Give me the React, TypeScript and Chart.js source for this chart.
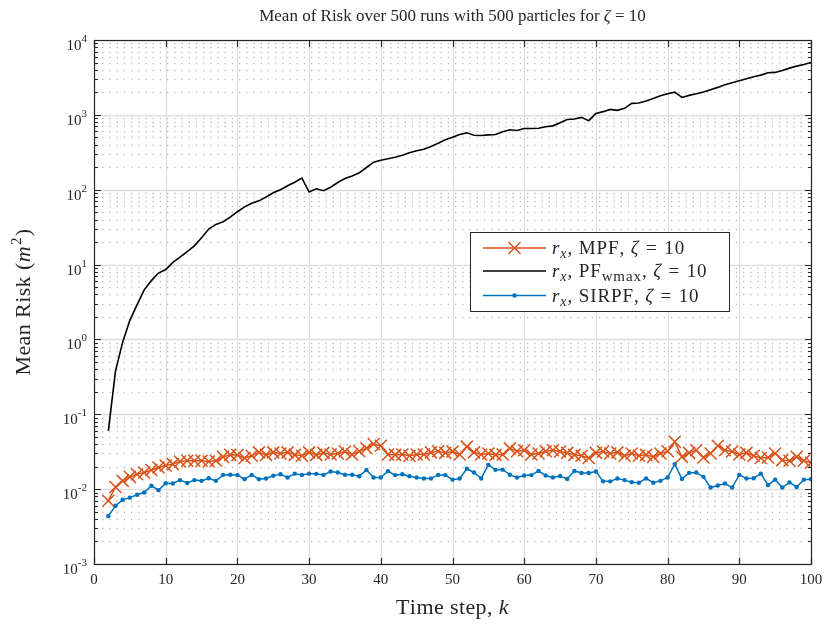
import React, { useEffect, useRef } from 'react';
import { Chart, registerables } from 'chart.js';

Chart.register(...registerables);

// ---------- data ----------
const steps: number[] = Array.from({ length: 99 }, (_, i) => i + 2); // k = 2..100

const mpfRisk: number[] = [
  0.0070, 0.0107, 0.0129, 0.0146, 0.0158, 0.0167, 0.018, 0.0195, 0.0207,
  0.0216, 0.0234, 0.0239, 0.024, 0.024, 0.0234, 0.024, 0.027, 0.0287, 0.0285,
  0.026, 0.028, 0.031, 0.0287, 0.031, 0.030, 0.031, 0.0287, 0.028, 0.031,
  0.0287, 0.0305, 0.029, 0.030, 0.0318, 0.029, 0.032, 0.0352, 0.040, 0.038,
  0.029, 0.0287, 0.029, 0.028, 0.029, 0.029, 0.031, 0.032, 0.0305, 0.0318,
  0.029, 0.037, 0.031, 0.029, 0.030, 0.0287, 0.029, 0.035, 0.032, 0.033,
  0.029, 0.030, 0.032, 0.033, 0.0318, 0.0305, 0.0287, 0.028, 0.026, 0.0305,
  0.0318, 0.030, 0.031, 0.028, 0.030, 0.028, 0.0287, 0.027, 0.030, 0.032,
  0.043, 0.027, 0.0305, 0.033, 0.0265, 0.030, 0.038, 0.033, 0.0318, 0.029,
  0.0305, 0.028, 0.026, 0.0265, 0.030, 0.0244, 0.024, 0.027, 0.024, 0.0225,
];

const pfwmaxRisk: number[] = [
  0.06, 0.38, 0.92, 1.8, 2.9, 4.6, 6.1, 7.7, 8.6,
  10.7, 12.6, 14.9, 17.8, 22.8, 29.8, 34.4, 37.4, 43, 50.8,
  59, 66, 71, 80, 91, 100, 113, 126, 143, 93,
  103, 97, 108, 125, 141, 153, 168, 198, 233, 248,
  259, 272, 289, 311, 331, 348, 378, 418, 464, 503,
  546, 575, 535, 530, 541, 546, 593, 631, 618, 657,
  657, 663, 693, 713, 782, 865, 880, 926, 836, 1047,
  1104, 1184, 1148, 1221, 1423, 1437, 1527, 1660, 1803, 1918,
  2014, 1711, 1820, 1918, 2014, 2168, 2328, 2529, 2687, 2858,
  3040, 3230, 3395, 3656, 3690, 3920, 4210, 4475, 4710, 5010,
];

const sirpfRisk: number[] = [
  0.00436, 0.006, 0.0072, 0.0077, 0.0084, 0.009, 0.0111, 0.0097, 0.012,
  0.0119, 0.0132, 0.0121, 0.0132, 0.0129, 0.014, 0.0129, 0.0155, 0.0156, 0.0154,
  0.0136, 0.0155, 0.0136, 0.0139, 0.0151, 0.0158, 0.0143, 0.0161, 0.0155, 0.0161,
  0.016, 0.0155, 0.0172, 0.0167, 0.0156, 0.0156, 0.0149, 0.018, 0.0143, 0.0143,
  0.0174, 0.0154, 0.0158, 0.0149, 0.0143, 0.0139, 0.0139, 0.0155, 0.0154, 0.0134,
  0.0139, 0.0187, 0.0167, 0.0139, 0.0211, 0.0181, 0.0182, 0.0156, 0.0143, 0.0152,
  0.0154, 0.0175, 0.0152, 0.0143, 0.015, 0.0137, 0.0175, 0.0164, 0.0164, 0.0172,
  0.0127, 0.0127, 0.0139, 0.0132, 0.0124, 0.0122, 0.0139, 0.0122, 0.0129, 0.0143,
  0.0216, 0.0137, 0.0165, 0.0167, 0.0146, 0.0105, 0.0112, 0.0119, 0.0105, 0.0155,
  0.0139, 0.014, 0.0161, 0.0113, 0.0134, 0.0105, 0.0123, 0.0107, 0.0134, 0.0136,
];

const xTicks: number[] = [0, 10, 20, 30, 40, 50, 60, 70, 80, 90, 100];
const yExponents: number[] = [-3, -2, -1, 0, 1, 2, 3, 4];
const minorMultipliers: number[] = [2, 3, 4, 5, 6, 7, 8, 9];

// ---------- styling ----------
const FONT = '"Liberation Serif", "DejaVu Serif", "Times New Roman", serif';
const TEXT = '#262626';
const ORANGE = '#D95319';
const BLUE = '#0072BD';

type Seg = { t: string; it?: boolean; sz?: number; dy?: number; gap?: number };

function drawRich(
  ctx: CanvasRenderingContext2D,
  segs: Seg[],
  x: number,
  y: number,
  size: number,
  align: 'left' | 'center' | 'right',
  ls = 0
) {
  ctx.save();
  ctx.textBaseline = 'alphabetic';
  ctx.textAlign = 'left';
  ctx.fillStyle = TEXT;
  const fontOf = (s: Seg) => `${s.it ? 'italic ' : ''}${s.sz ?? size}px ${FONT}`;
  let total = 0;
  const widths = segs.map((s) => {
    ctx.font = fontOf(s);
    let w = 0;
    for (const ch of s.t) w += ctx.measureText(ch).width + ls;
    w += s.gap ?? 0;
    total += w;
    return w;
  });
  let cx = align === 'left' ? x : align === 'center' ? x - total / 2 : x - total;
  segs.forEach((s, i) => {
    ctx.font = fontOf(s);
    if (ls === 0) {
      ctx.fillText(s.t, cx, y + (s.dy ?? 0));
    } else {
      let px = cx;
      for (const ch of s.t) {
        ctx.fillText(ch, px, y + (s.dy ?? 0));
        px += ctx.measureText(ch).width + ls;
      }
    }
    cx += widths[i];
  });
  ctx.restore();
}

const matlabAxes = {
  id: 'matlabAxes',
  beforeDatasetsDraw(chart: any) {
    const { ctx, chartArea: a, scales } = chart;
    const xs = scales.x;
    const ys = scales.y;
    ctx.save();
    ctx.beginPath();
    ctx.rect(a.left, a.top, a.right - a.left, a.bottom - a.top);
    ctx.clip();
    // minor dotted grid (horizontal)
    ctx.strokeStyle = '#bdbdbd';
    ctx.lineWidth = 1.3;
    ctx.setLineDash([1.3, 5.9]);
    yExponents.slice(0, -1).forEach((e) => {
      minorMultipliers.forEach((m) => {
        const py = Math.round(ys.getPixelForValue(m * Math.pow(10, e))) + 0.5;
        ctx.beginPath();
        ctx.moveTo(a.left + 1, py);
        ctx.lineTo(a.right, py);
        ctx.stroke();
      });
    });
    ctx.setLineDash([]);
    // major grid
    ctx.strokeStyle = '#dedede';
    ctx.lineWidth = 1.3;
    yExponents.forEach((e) => {
      const py = Math.round(ys.getPixelForValue(Math.pow(10, e))) + 0.5;
      ctx.beginPath();
      ctx.moveTo(a.left, py);
      ctx.lineTo(a.right, py);
      ctx.stroke();
    });
    xTicks.forEach((v) => {
      const px = Math.round(xs.getPixelForValue(v)) + 0.5;
      ctx.beginPath();
      ctx.moveTo(px, a.top);
      ctx.lineTo(px, a.bottom);
      ctx.stroke();
    });
    ctx.restore();
  },
  afterDatasetsDraw(chart: any) {
    const { ctx, chartArea: a, scales } = chart;
    const xs = scales.x;
    const ys = scales.y;
    const L = a.left + 0.5;
    const R = a.right + 0.5;
    const T = a.top + 0.5;
    const B = a.bottom + 0.5;
    ctx.save();
    ctx.strokeStyle = TEXT;
    ctx.lineWidth = 1.2;
    // ticks
    xTicks.forEach((v) => {
      const px = Math.round(xs.getPixelForValue(v)) + 0.5;
      ctx.beginPath();
      ctx.moveTo(px, B);
      ctx.lineTo(px, B - 6.5);
      ctx.moveTo(px, T);
      ctx.lineTo(px, T + 6.5);
      ctx.stroke();
    });
    yExponents.forEach((e, idx) => {
      const py = Math.round(ys.getPixelForValue(Math.pow(10, e))) + 0.5;
      ctx.beginPath();
      ctx.moveTo(L, py);
      ctx.lineTo(L + 6.5, py);
      ctx.moveTo(R, py);
      ctx.lineTo(R - 6.5, py);
      ctx.stroke();
      if (idx < yExponents.length - 1) {
        minorMultipliers.forEach((m) => {
          const my = Math.round(ys.getPixelForValue(m * Math.pow(10, e))) + 0.5;
          ctx.beginPath();
          ctx.moveTo(L, my);
          ctx.lineTo(L + 3.5, my);
          ctx.moveTo(R, my);
          ctx.lineTo(R - 3.5, my);
          ctx.stroke();
        });
      }
    });
    // box
    ctx.strokeRect(L, T, R - L, B - T);
    ctx.restore();

    // tick labels
    ctx.save();
    ctx.fillStyle = TEXT;
    ctx.font = `15px ${FONT}`;
    ctx.textAlign = 'center';
    ctx.textBaseline = 'alphabetic';
    xTicks.forEach((v) => {
      ctx.fillText(String(v), xs.getPixelForValue(v), a.bottom + 20);
    });
    ctx.restore();
    yExponents.forEach((e) => {
      const py = ys.getPixelForValue(Math.pow(10, e));
      const exp = e < 0 ? '-' + Math.abs(e) : String(e);
      drawRich(ctx, [{ t: '10' }, { t: exp, sz: 11, dy: -8 }], a.left - 7, py + 10, 15, 'right');
    });

    // title and axis labels
    drawRich(
      ctx,
      [{ t: 'Mean of Risk over 500 runs with 500 particles for ' }, { t: 'ζ', it: true }, { t: ' = 10' }],
      (a.left + a.right) / 2,
      21,
      17,
      'center'
    );
    drawRich(ctx, [{ t: 'Time step, ' }, { t: 'k', it: true }], (a.left + a.right) / 2, a.bottom + 50, 22, 'center', 0.4);
    ctx.save();
    ctx.translate(30, (a.top + a.bottom) / 2);
    ctx.rotate(-Math.PI / 2);
    drawRich(
      ctx,
      [{ t: 'Mean Risk (' }, { t: 'm', it: true, gap: 1 }, { t: '2', sz: 15, dy: -9, gap: 1 }, { t: ')' }],
      0,
      0,
      22,
      'center',
      0.4
    );
    ctx.restore();

    // legend
    const lx = 470.5, ly = 232.5, lw = 259, lh = 79;
    ctx.save();
    ctx.fillStyle = '#ffffff';
    ctx.fillRect(lx, ly, lw, lh);
    ctx.strokeStyle = TEXT;
    ctx.lineWidth = 1;
    ctx.strokeRect(lx, ly, lw, lh);
    const tail: Seg[] = [{ t: 'ζ', it: true, gap: 1 }, { t: ' = ', gap: 1 }, { t: '10' }];
    const rows = [
      { y: 248, color: ORANGE, marker: 'x', segs: [{ t: 'r', it: true }, { t: 'x', it: true, sz: 14, dy: 4 }, { t: ', MPF, ' }, ...tail] },
      { y: 271, color: '#000000', marker: '', segs: [{ t: 'r', it: true }, { t: 'x', it: true, sz: 14, dy: 4 }, { t: ', PF' }, { t: 'wmax', sz: 15, dy: 4 }, { t: ', ' }, ...tail] },
      { y: 295.5, color: BLUE, marker: 'o', segs: [{ t: 'r', it: true }, { t: 'x', it: true, sz: 14, dy: 4 }, { t: ', SIRPF, ' }, ...tail] },
    ];
    rows.forEach((r) => {
      ctx.strokeStyle = r.color;
      ctx.lineWidth = 1.5;
      ctx.beginPath();
      ctx.moveTo(483, r.y);
      ctx.lineTo(546, r.y);
      ctx.stroke();
      if (r.marker === 'x') {
        const d = 6;
        ctx.beginPath();
        ctx.moveTo(514.5 - d, r.y - d);
        ctx.lineTo(514.5 + d, r.y + d);
        ctx.moveTo(514.5 - d, r.y + d);
        ctx.lineTo(514.5 + d, r.y - d);
        ctx.stroke();
      } else if (r.marker === 'o') {
        ctx.fillStyle = r.color;
        ctx.beginPath();
        ctx.arc(514.5, r.y, 2.2, 0, Math.PI * 2);
        ctx.fill();
      }
      drawRich(ctx, r.segs as Seg[], 552, r.y + 6, 19, 'left', 0.9);
    });
    ctx.restore();
  },
};

export default function App() {
  const canvasRef = useRef<HTMLCanvasElement | null>(null);

  useEffect(() => {
    const canvas = canvasRef.current;
    if (!canvas) return;
    const toPts = (arr: number[]) => steps.map((k, i) => ({ x: k, y: arr[i] }));
    const chart = new Chart(canvas, {
      type: 'line',
      data: {
        datasets: [
          {
            label: 'MPF',
            data: toPts(mpfRisk),
            borderColor: ORANGE,
            backgroundColor: ORANGE,
            borderWidth: 1.5,
            pointStyle: 'crossRot',
            pointRadius: 8.5,
            pointBorderWidth: 1.5,
            pointBorderColor: ORANGE,
            tension: 0,
            order: 3,
          },
          {
            label: 'PFwmax',
            data: toPts(pfwmaxRisk),
            borderColor: '#000000',
            backgroundColor: '#000000',
            borderWidth: 1.6,
            pointRadius: 0,
            tension: 0,
            order: 2,
          },
          {
            label: 'SIRPF',
            data: toPts(sirpfRisk),
            borderColor: BLUE,
            backgroundColor: BLUE,
            borderWidth: 1.5,
            pointStyle: 'circle',
            pointRadius: 2.2,
            pointBorderWidth: 0,
            pointBackgroundColor: BLUE,
            tension: 0,
            order: 1,
          },
        ],
      },
      options: {
        responsive: false,
        animation: false,
        devicePixelRatio: 1,
        events: [],
        layout: { padding: { left: 94, top: 40, right: 17, bottom: 63 } },
        scales: {
          x: { type: 'linear', min: 0, max: 100, display: false },
          y: { type: 'logarithmic', min: 0.001, max: 10000, display: false },
        },
        plugins: {
          legend: { display: false },
          tooltip: { enabled: false },
          title: { display: false },
        },
      },
      plugins: [matlabAxes],
    } as any);
    return () => chart.destroy();
  }, []);

  return (
    <div style={{ position: 'fixed', left: 0, top: 0, width: 828, height: 627, background: '#ffffff' }}>
      <canvas ref={canvasRef} width={828} height={627} style={{ display: 'block' }} />
    </div>
  );
}
